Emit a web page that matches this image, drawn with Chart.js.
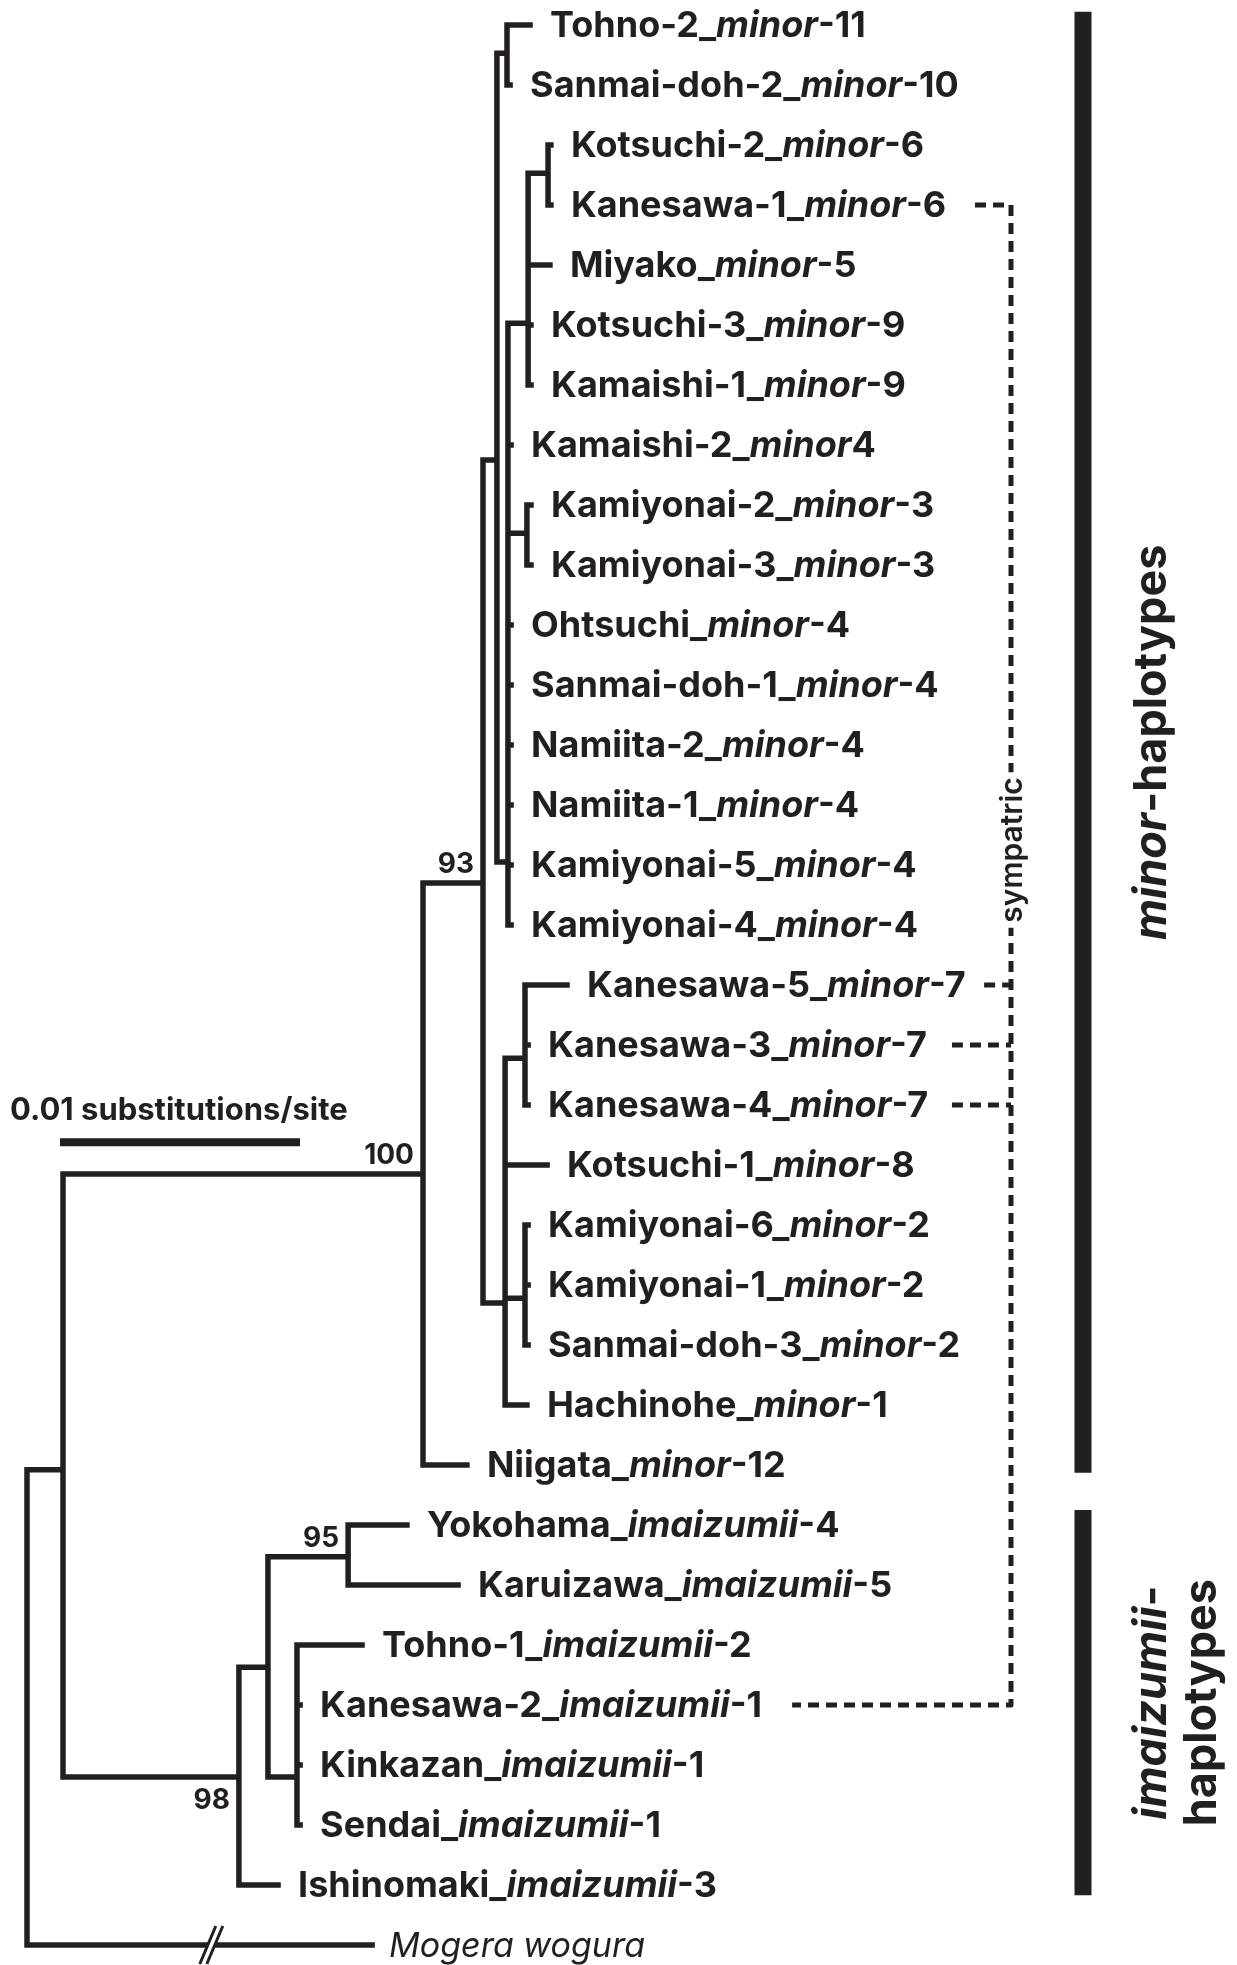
<!DOCTYPE html>
<html>
<head>
<meta charset="utf-8">
<title>minor / imaizumii haplotype tree</title>
<script src="https://cdn.jsdelivr.net/npm/chart.js@4.4.1/dist/chart.umd.min.js"></script>
<style>
  html, body { margin: 0; padding: 0; background: #fff; }
  canvas { display: block; }
</style>
</head>
<body>
<canvas id="treeChart" width="1237" height="1965"></canvas>
<script>
// leaves, top to bottom (row = index)
const leafPlace = ["Tohno-2", "Sanmai-doh-2", "Kotsuchi-2", "Kanesawa-1", "Miyako", "Kotsuchi-3",
                   "Kamaishi-1", "Kamaishi-2", "Kamiyonai-2", "Kamiyonai-3", "Ohtsuchi", "Sanmai-doh-1",
                   "Namiita-2", "Namiita-1", "Kamiyonai-5", "Kamiyonai-4", "Kanesawa-5", "Kanesawa-3",
                   "Kanesawa-4", "Kotsuchi-1", "Kamiyonai-6", "Kamiyonai-1", "Sanmai-doh-3", "Hachinohe",
                   "Niigata", "Yokohama", "Karuizawa", "Tohno-1", "Kanesawa-2", "Kinkazan",
                   "Sendai", "Ishinomaki", "Mogera wogura"];
const leafTaxon = ["minor", "minor", "minor", "minor", "minor", "minor", "minor", "minor", "minor", "minor",
                   "minor", "minor", "minor", "minor", "minor", "minor", "minor", "minor", "minor", "minor",
                   "minor", "minor", "minor", "minor", "minor", "imaizumii", "imaizumii", "imaizumii",
                   "imaizumii", "imaizumii", "imaizumii", "imaizumii", ""];
const leafHap = ["-11", "-10", "-6", "-6", "-5", "-9", "-9", "4", "-3", "-3", "-4", "-4", "-4", "-4", "-4", "-4",
                 "-7", "-7", "-7", "-8", "-2", "-2", "-2", "-1", "-12", "-4", "-5", "-2", "-1", "-1", "-1", "-3", ""];

// nodes 0..32 are the leaves above, 33..49 internal (33 = root)
const nodeParent = [38, 38, 41, 41, 40, 40, 40, 39, 42, 42, 39, 39, 39, 39, 39, 39,
                    44, 44, 44, 43, 45, 45, 45, 43, 35, 48, 48, 49, 49, 49, 49, 46, 33,
                    -1, 33, 34, 35, 36, 37, 37, 39, 40, 39, 36, 43, 43, 34, 46, 47, 47];
// distance from root, substitutions/site
const nodeDepth = [0.02096, 0.02013, 0.02183, 0.02183, 0.02179, 0.02100, 0.02100, 0.02017,
                   0.02100, 0.02100, 0.02017, 0.02017, 0.02017, 0.02017, 0.02017, 0.02017,
                   0.02250, 0.02088, 0.02088, 0.02167, 0.02088, 0.02088, 0.02088, 0.02083,
                   0.01833, 0.01583, 0.01796, 0.01396, 0.01138, 0.01138, 0.01138, 0.01046, 0.01438,
                   0, 0.0015, 0.0165, 0.0190, 0.01958, 0.0200, 0.02004, 0.02088, 0.02171, 0.02083,
                   0.01992, 0.02075, 0.02075, 0.00883, 0.01004, 0.01338, 0.01125];
// row where each internal node's stem joins (33..49)
const innerRow = [28, 24.08, 19.15, 14.3, 7.25, 0.47, 13.95, 4.97, 2.47, 8.47,
                  21.3, 17.22, 21.22, 29.2, 27.37, 25.53, 29.2];

// bootstrap values
const supportNode = [35, 36, 48, 46];
const supportValue = ["100", "93", "95", "98"];
const supportBelow = [false, false, false, true];

// sympatric haplotypes joined by the dashed line
const sympatricRows = [3, 16, 17, 18, 28];
const sympatricFrom = [0.03950, 0.03988, 0.03854, 0.03854, 0.03188];
const sympatricLineX = 0.0410;
const sympatricLabelRow = 13.75;

// group bars
const groupBarX = 0.0440;
const groupRowStart = [-0.22, 24.75];
const groupRowEnd = [24.13, 31.17];

// scale bar
const scaleBarFrom = 0.001375;
const scaleBarLength = 0.01;
const scaleBarRow = 18.62;
const outgroupBreakX = 0.0077;

const ink = "#231f20";
const fam = 'Inter, "Liberation Sans", Arial, sans-serif';

function rowOf(n) {
	return n < leafPlace.length ? n : innerRow[n - leafPlace.length];
}

// build the branch segments (null point = pen up)
const branchPts = [];
for (let n = 0; n < nodeParent.length; n++) {
	const p = nodeParent[n];
	if (p >= 0) {
		branchPts.push({x: nodeDepth[p], y: rowOf(n)}, {x: nodeDepth[n], y: rowOf(n)}, {x: null, y: null});
	}
	const kids = [];
	for (let k = 0; k < nodeParent.length; k++) if (nodeParent[k] == n) kids.push(rowOf(k));
	if (kids.length) {
		branchPts.push({x: nodeDepth[n], y: Math.min(...kids)}, {x: nodeDepth[n], y: Math.max(...kids)}, {x: null, y: null});
	}
}

// dashed sympatric connector: first and last rows form one bracket
const dashPts = [];
const last = sympatricRows.length - 1;
dashPts.push({x: sympatricFrom[0], y: sympatricRows[0]}, {x: sympatricLineX, y: sympatricRows[0]},
             {x: sympatricLineX, y: sympatricRows[last]}, {x: sympatricFrom[last], y: sympatricRows[last]},
             {x: null, y: null});
for (let i = 1; i < last; i++) {
	dashPts.push({x: sympatricFrom[i], y: sympatricRows[i]}, {x: sympatricLineX, y: sympatricRows[i]}, {x: null, y: null});
}

const barPts = [];
for (let i = 0; i < groupRowStart.length; i++) {
	barPts.push({x: groupBarX, y: groupRowStart[i]}, {x: groupBarX, y: groupRowEnd[i]}, {x: null, y: null});
}

function drawParts(ctx, x, y, parts, size) {
	ctx.textAlign = "left";
	for (const part of parts) {
		ctx.font = part.style + " " + size + "px " + fam;
		ctx.fillText(part.text, x, y);
		x += ctx.measureText(part.text).width;
	}
}

function partsWidth(ctx, parts, size) {
	let w = 0;
	for (const part of parts) {
		ctx.font = part.style + " " + size + "px " + fam;
		w += ctx.measureText(part.text).width;
	}
	return w;
}

const labelPlugin = {
	id: "treeLabels",
	afterDatasetsDraw(chart) {
		const ctx = chart.ctx, xs = chart.scales.x, ys = chart.scales.y;
		ctx.save();
		ctx.fillStyle = ink;
		ctx.textBaseline = "alphabetic";

		// leaf names
		for (let i = 0; i < leafPlace.length; i++) {
			const y = ys.getPixelForValue(i) + 12;
			let parts, x;
			if (leafTaxon[i] == "") {
				parts = [{text: leafPlace[i], style: "italic 400"}];
				x = xs.getPixelForValue(nodeDepth[i]) + 17;
			} else {
				parts = [{text: leafPlace[i] + "_", style: "700"},
				         {text: leafTaxon[i], style: "italic 700"},
				         {text: leafHap[i], style: "700"}];
				x = xs.getPixelForValue(nodeDepth[i]) + 20;
			}
			drawParts(ctx, x, y, parts, leafTaxon[i] == "" ? 34 : 36);
		}

		// outgroup break
		const bx = xs.getPixelForValue(outgroupBreakX), by = ys.getPixelForValue(leafPlace.length - 1);
		ctx.fillStyle = "#fff";
		ctx.beginPath();
		ctx.moveTo(bx - 12, by + 19); ctx.lineTo(bx + 4, by - 19); ctx.lineTo(bx + 11, by - 19); ctx.lineTo(bx - 5, by + 19);
		ctx.closePath(); ctx.fill();
		ctx.strokeStyle = ink; ctx.lineWidth = 3;
		ctx.beginPath();
		ctx.moveTo(bx - 12, by + 19); ctx.lineTo(bx + 4, by - 19);
		ctx.moveTo(bx - 5, by + 19); ctx.lineTo(bx + 11, by - 19);
		ctx.stroke();
		ctx.fillStyle = ink;

		// bootstrap support
		ctx.font = "700 28px " + fam;
		ctx.textAlign = "right";
		for (let i = 0; i < supportNode.length; i++) {
			const n = supportNode[i];
			const x = xs.getPixelForValue(nodeDepth[n]) - 9;
			const y = ys.getPixelForValue(rowOf(n)) + (supportBelow[i] ? 32 : -10);
			ctx.fillText(supportValue[i], x, y);
		}

		// scale bar label
		ctx.font = "700 31px " + fam;
		ctx.textAlign = "left";
		ctx.fillText("0.01 substitutions/site", xs.getPixelForValue(scaleBarFrom) - 50, ys.getPixelForValue(scaleBarRow) - 22);

		// sympatric, rotated over the dashed line
		const sx = xs.getPixelForValue(sympatricLineX) + 2, sy = ys.getPixelForValue(sympatricLabelRow);
		ctx.save();
		ctx.translate(sx, sy);
		ctx.rotate(-Math.PI / 2);
		ctx.font = "600 30px " + fam;
		const sw = ctx.measureText("sympatric").width;
		ctx.fillStyle = "#fff";
		ctx.fillRect(-sw / 2 - 5, -16, sw + 10, 32);
		ctx.fillStyle = ink;
		ctx.textAlign = "center";
		ctx.textBaseline = "middle";
		ctx.fillText("sympatric", 0, 0);
		ctx.restore();

		// group names
		const gx = xs.getPixelForValue(groupBarX);
		const groupText = [
			[[{text: "minor", style: "italic 700"}, {text: "-haplotypes", style: "700"}]],
			[[{text: "imaizumii", style: "italic 700"}, {text: "-", style: "700"}], [{text: "haplotypes", style: "700"}]]
		];
		for (let g = 0; g < groupText.length; g++) {
			const cy = (ys.getPixelForValue(groupRowStart[g]) + ys.getPixelForValue(groupRowEnd[g])) / 2;
			const lines = groupText[g];
			for (let l = 0; l < lines.length; l++) {
				ctx.save();
				ctx.translate(gx + 83 + l * 50, cy);
				ctx.rotate(-Math.PI / 2);
				ctx.textBaseline = "alphabetic";
				const w = partsWidth(ctx, lines[l], 45);
				drawParts(ctx, -w / 2, 0, lines[l], 45);
				ctx.restore();
			}
		}
		ctx.restore();
	}
};

new Chart("treeChart", {
	type: "scatter",
	data: {
		datasets: [
			{ data: branchPts, showLine: true, borderColor: ink, borderWidth: 5.5, pointRadius: 0,
			  borderCapStyle: "square", borderJoinStyle: "miter", spanGaps: false },
			{ data: dashPts, showLine: true, borderColor: ink, borderWidth: 5, pointRadius: 0,
			  borderDash: [11, 7], borderJoinStyle: "round", spanGaps: false },
			{ data: barPts, showLine: true, borderColor: ink, borderWidth: 17, pointRadius: 0,
			  borderCapStyle: "butt", spanGaps: false },
			{ data: [{x: scaleBarFrom, y: scaleBarRow}, {x: scaleBarFrom + scaleBarLength, y: scaleBarRow}],
			  showLine: true, borderColor: ink, borderWidth: 8, pointRadius: 0, borderCapStyle: "butt" }
		]
	},
	options: {
		responsive: false,
		animation: false,
		devicePixelRatio: 1,
		layout: { padding: 0 },
		plugins: { legend: { display: false }, tooltip: { enabled: false } },
		scales: {
			x: { type: "linear", display: false, min: -0.001125, max: 0.0504167 },
			y: { type: "linear", display: false, reverse: true, min: -0.41667, max: 32.3333 }
		}
	},
	plugins: [labelPlugin]
});
</script>
</body>
</html>
